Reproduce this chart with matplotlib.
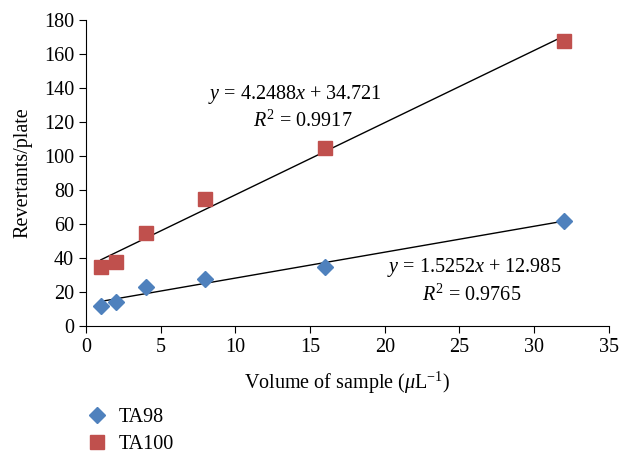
"""Revertants per plate against sample volume, with linear trend lines."""

import matplotlib
matplotlib.use('Agg')
import matplotlib.pyplot as plt
import numpy as np

# Data
volume = [1, 2, 4, 8, 16, 32]
ta98 = [12, 14, 23, 28, 35, 62]
ta100 = [35, 38, 55, 75, 105, 168]
fit98 = (1.5252, 12.985, 0.9765)
fit100 = (4.2488, 34.721, 0.9917)
x_ticks = [0, 5, 10, 15, 20, 25, 30, 35]
y_ticks = [0, 20, 40, 60, 80, 100, 120, 140, 160, 180]

BLUE = '#4F81BD'
RED = '#C0504D'
FS = 14.5
EQ = '='


def main():
    plt.rcParams['font.family'] = ['Liberation Serif', 'DejaVu Serif']
    plt.rcParams['mathtext.fontset'] = 'custom'
    plt.rcParams['mathtext.rm'] = 'Liberation Serif'
    plt.rcParams['mathtext.it'] = 'Liberation Serif:italic'

    fig = plt.figure(figsize=(6.22, 4.58), dpi=100)
    axes = fig.add_axes([0.138, 0.288, 0.841, 0.668])

    # Points
    axes.plot(volume, ta98, 'D', color=BLUE, markersize=8, linestyle='none',
              label='TA98', zorder=3)
    axes.plot(volume, ta100, 's', color=RED, markersize=10, linestyle='none',
              label='TA100', zorder=3)

    # Trend lines
    xs = np.array([volume[0], volume[-1]])
    for slope, icpt, _ in (fit98, fit100):
        axes.plot(xs, slope * xs + icpt, color='black', lw=1, zorder=2)

    # Equations
    axes.text(14.0, 136, r'$y$ %s %.4f$x$ + %.3f' % (EQ, *fit100[:2]),
              ha='center', va='center', fontsize=FS)
    axes.text(14.5, 120.5, r'$R^2$ %s %.4f' % (EQ, fit100[2]),
              ha='center', va='center', fontsize=FS)
    axes.text(26.0, 34.5, r'$y$ %s %.4f$x$ + %.3f' % (EQ, *fit98[:2]),
              ha='center', va='center', fontsize=FS)
    axes.text(25.8, 18.2, r'$R^2$ %s %.4f' % (EQ, fit98[2]),
              ha='center', va='center', fontsize=FS)

    # Axes
    axes.set_xlim(0, 35)
    axes.set_ylim(0, 180)
    axes.set_xticks(x_ticks)
    axes.set_yticks(y_ticks)
    axes.spines['top'].set_visible(False)
    axes.spines['right'].set_visible(False)
    axes.tick_params(direction='out', labelsize=FS, length=5)
    axes.set_xlabel(r'Volume of sample ($\mu$L$^{-1}$)', fontsize=FS,
                    labelpad=9)
    axes.set_ylabel('Revertants/plate', fontsize=FS, labelpad=8)

    fig.legend(loc='lower left', bbox_to_anchor=(0.11, -0.03), frameon=False,
               fontsize=FS, handlelength=1.0, handletextpad=0.6,
               labelspacing=0.35)

    plt.savefig('out.png', dpi=100)
    plt.close()


if __name__ == '__main__':
    main()
